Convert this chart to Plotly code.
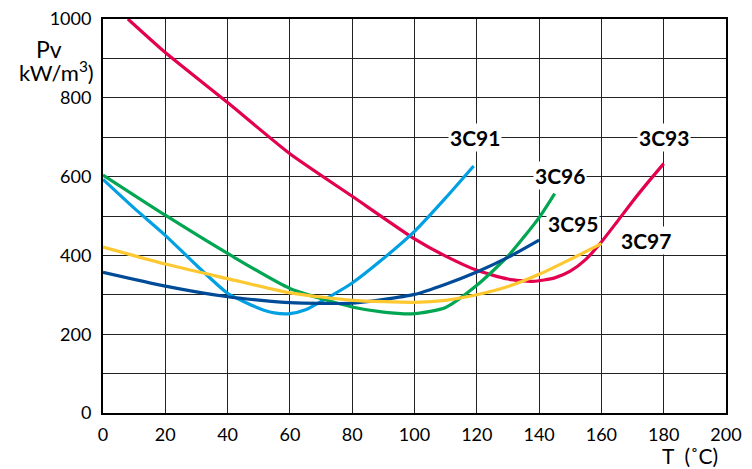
import plotly.graph_objects as go

# Data
t_3c93 = [8, 20, 40, 60, 80, 100, 110, 120, 130, 138, 145, 150, 155, 160, 165, 170, 175, 180]
pv_3c93 = [1000, 915, 788, 658, 550, 442, 398, 362, 340, 334, 343, 360, 390, 434, 485, 537, 586, 633]

t_3c91 = [0, 10, 20, 30, 40, 50, 55, 60, 65, 70, 80, 90, 100, 110, 119]
pv_3c91 = [593, 520, 451, 375, 304, 266, 254, 252, 262, 283, 330, 392, 461, 546, 627]

t_3c96 = [0, 20, 40, 60, 80, 90, 100, 110, 120, 130, 140, 145]
pv_3c96 = [604, 502, 405, 316, 269, 256, 252, 268, 324, 398, 496, 557]

t_3c95 = [0, 20, 40, 60, 80, 100, 110, 120, 130, 140]
pv_3c95 = [357, 322, 295, 280, 279, 301, 327, 358, 395, 439]

t_3c97 = [0, 20, 40, 60, 80, 100, 110, 120, 130, 140, 150, 160]
pv_3c97 = [421, 378, 341, 305, 286, 281, 286, 300, 321, 352, 390, 430]

series = [
    ("3C93", t_3c93, pv_3c93, "#E2004F"),
    ("3C91", t_3c91, pv_3c91, "#00A0E3"),
    ("3C96", t_3c96, pv_3c96, "#00A651"),
    ("3C95", t_3c95, pv_3c95, "#004B98"),
    ("3C97", t_3c97, pv_3c97, "#FDC830"),
]

labels = ["3C91", "3C93", "3C96", "3C95", "3C97"]
label_x = [119.5, 180, 146.6, 151, 174.4]
label_y = [700, 700, 604, 482, 438]

x_ticks = list(range(0, 201, 20))
y_ticks = list(range(0, 1001, 100))
y_ticktext = [str(v) if v % 200 == 0 else "" for v in y_ticks]

fig = go.Figure()
for name, xs, ys, col in series:
    fig.add_trace(go.Scatter(x=xs, y=ys, mode="lines", name=name,
                             line=dict(color=col, width=3.2, shape="spline", smoothing=0.6),
                             showlegend=False, hoverinfo="skip"))

for lab, lx, ly in zip(labels, label_x, label_y):
    fig.add_annotation(x=lx, y=ly, text="<b>" + lab + "</b>", showarrow=False,
                       xanchor="center", yanchor="middle",
                       font=dict(family="Lato", size=21, color="black"),
                       bgcolor="white", borderpad=1)

fig.add_annotation(xref="paper", yref="paper", x=-0.086, y=0.925, text="Pv",
                   xanchor="center", yanchor="middle",
                   showarrow=False, font=dict(family="Lato", size=23, color="black"))
fig.add_annotation(xref="paper", yref="paper", x=-0.075, y=0.866, text="kW/m<sup>3</sup>)",
                   xanchor="center", yanchor="middle",
                   showarrow=False, font=dict(family="Lato", size=22, color="black"))
fig.add_annotation(xref="paper", yref="paper", x=0.942, y=-0.107, text="T  (˚C)",
                   xanchor="center", yanchor="middle",
                   showarrow=False, font=dict(family="Lato", size=21, color="black"))

fig.update_xaxes(range=[0, 200], tickvals=x_ticks, showgrid=True, gridcolor="#222",
                 gridwidth=1.3, showline=True, linecolor="black", linewidth=2, mirror=True,
                 zeroline=False, ticks="", ticklabelstandoff=4, automargin=False,
                 ticklabeloverflow="allow",
                 tickfont=dict(family="Lato", size=18, color="black"))
fig.update_yaxes(range=[0, 1000], tickvals=y_ticks, ticktext=y_ticktext, showgrid=True,
                 gridcolor="#222", gridwidth=1.3, showline=True, linecolor="black",
                 linewidth=2, mirror=True, zeroline=False, ticks="", ticklabelstandoff=6,
                 automargin=False, ticklabeloverflow="allow",
                 tickfont=dict(family="Lato", size=18, color="black"))

fig.update_layout(width=744, height=461, margin=dict(l=95, r=26, t=11, b=56),
                  paper_bgcolor="white", plot_bgcolor="white")

fig.write_html("out.html")
